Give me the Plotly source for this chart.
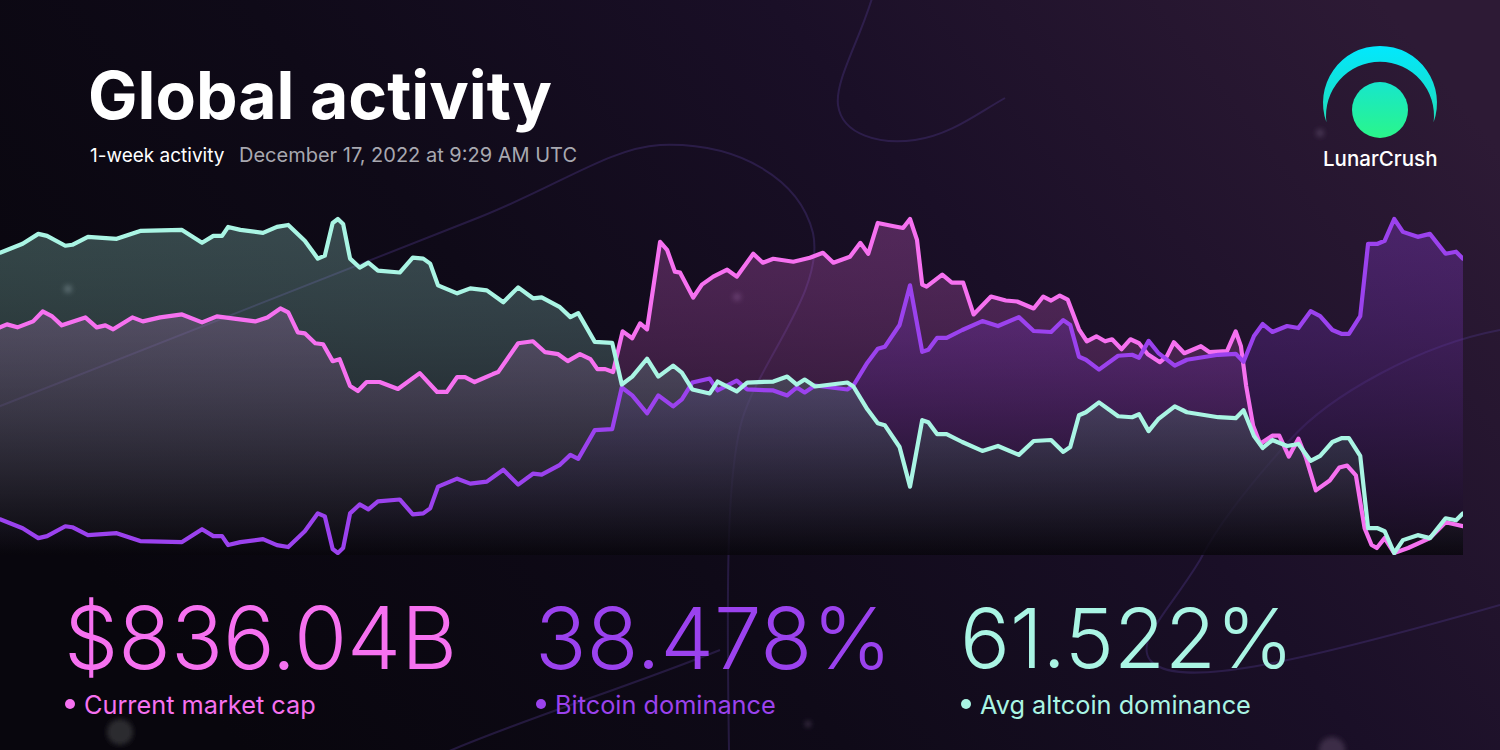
import base64
import plotly.graph_objects as go

# hours since start of the 1-week window
cap_hours = [0.0, 0.8, 2.0, 3.8, 4.9, 6.0, 7.1, 8.3, 9.8, 11.1, 12.1, 13.0, 15.2, 16.4, 18.4, 20.9,
             23.2, 24.9, 29.3, 30.7, 32.2, 33.1, 34.2, 35.0, 36.2, 37.1, 38.2, 39.0, 40.2, 41.1,
             42.1, 43.6, 45.7, 48.2, 50.2, 51.3, 52.5, 53.4, 54.5, 56.6, 57.2, 59.5, 61.2, 62.6,
             64.1, 65.2, 66.6, 67.8, 68.6, 69.5, 70.4, 71.5, 72.6, 73.5, 74.3, 75.8, 76.6, 77.5,
             78.1, 79.6, 80.6, 81.9, 83.5, 84.6, 86.5, 87.6, 88.8, 91.1, 93.0, 94.5, 95.7, 97.6,
             98.8, 99.7, 100.8, 102.5, 103.7, 104.5, 105.3, 105.9, 106.4, 108.2, 109.3, 110.6,
             111.8, 113.8, 115.5, 116.8, 118.7, 119.8, 120.7, 121.7, 122.6, 123.9, 124.8, 125.9,
             126.9, 127.7, 128.8, 129.8, 130.8, 131.8, 133.2, 134.0, 134.8, 136.0, 137.9, 138.9,
             140.9, 141.9, 142.5, 143.1, 143.9, 144.7, 146.1, 146.9, 148.0, 149.1, 150.0, 151.1,
             152.7, 153.8, 154.7, 155.7, 156.7, 157.5, 158.1, 159.0, 160.1, 161.7, 162.8, 164.2,
             166.0, 168.0]
# total crypto market cap, $B
cap_values = [876.0, 876.6, 876.0, 877.2, 879.2, 878.2, 876.4, 877.2, 878.0, 876.0, 876.4, 875.6,
              878.0, 877.2, 878.0, 878.6, 877.0, 878.2, 877.2, 878.0, 879.8, 879.0, 875.0, 874.8,
              872.8, 872.6, 869.2, 869.6, 864.2, 863.2, 865.0, 865.0, 863.6, 866.8, 863.0, 863.0,
              866.0, 866.0, 865.0, 866.6, 867.0, 872.8, 873.2, 871.0, 870.6, 869.2, 870.6, 869.6,
              867.6, 867.6, 867.0, 875.2, 873.8, 876.8, 875.6, 893.2, 891.6, 887.2, 887.0, 882.0,
              884.6, 886.2, 887.6, 886.2, 890.8, 889.0, 889.8, 889.2, 890.0, 891.0, 889.0, 890.2,
              893.0, 890.8, 897.0, 896.4, 896.0, 897.8, 893.6, 884.6, 884.2, 886.6, 885.0, 885.0,
              878.6, 882.2, 881.4, 881.2, 879.8, 882.2, 881.4, 882.4, 881.6, 875.6, 873.2, 874.2,
              873.2, 873.6, 871.6, 873.6, 872.8, 870.6, 869.0, 870.2, 873.0, 870.8, 872.2, 871.0,
              871.2, 875.2, 872.2, 864.2, 856.2, 852.6, 854.2, 854.2, 850.0, 853.6, 849.6, 843.2,
              845.2, 847.8, 848.2, 846.2, 835.6, 832.2, 831.6, 833.6, 830.6, 831.6, 832.4, 833.6,
              836.8, 836.0]

dom_hours = [0.0, 2.6, 4.4, 5.4, 7.5, 8.3, 10.1, 13.4, 16.1, 20.9, 23.2, 24.5, 25.5, 26.2, 27.6,
             30.2, 31.8, 33.1, 35.0, 36.5, 37.3, 38.2, 38.8, 39.4, 40.2, 41.3, 42.3, 43.4, 45.9,
             47.4, 48.6, 49.4, 50.3, 52.5, 54.0, 55.9, 57.8, 59.5, 61.2, 62.2, 64.3, 65.5, 66.4,
             68.3, 70.3, 71.4, 72.6, 74.3, 75.6, 77.3, 78.3, 79.5, 81.5, 82.4, 84.6, 85.8, 88.8,
             90.4, 91.5, 92.4, 93.6, 97.3, 98.0, 99.6, 100.8, 101.6, 103.3, 104.5, 105.9, 106.6,
             107.6, 108.7, 110.5, 112.8, 114.6, 117.0, 118.7, 120.7, 122.1, 122.9, 123.9, 124.7,
             126.2, 128.4, 130.0, 130.8, 131.9, 133.0, 134.9, 136.3, 139.9, 141.9, 142.8, 144.0,
             145.0, 146.1, 147.8, 149.1, 150.5, 151.6, 153.0, 154.1, 154.9, 156.2, 157.1, 158.2,
             159.0, 160.1, 161.1, 162.8, 164.2, 166.0, 167.2, 168.0]
# bitcoin dominance, %
btc_dominance = [37.426, 37.390, 37.350, 37.358, 37.398, 37.394, 37.362, 37.370, 37.338, 37.334,
                 37.386, 37.358, 37.358, 37.322, 37.334, 37.346, 37.322, 37.314, 37.378, 37.450,
                 37.438, 37.306, 37.290, 37.310, 37.450, 37.486, 37.466, 37.498, 37.506, 37.446,
                 37.450, 37.470, 37.558, 37.590, 37.570, 37.578, 37.626, 37.566, 37.610, 37.606,
                 37.646, 37.686, 37.670, 37.786, 37.790, 37.958, 37.926, 37.854, 37.926, 37.882,
                 37.910, 37.978, 37.994, 37.946, 37.986, 37.950, 37.946, 37.926, 37.958, 37.938,
                 37.966, 37.950, 37.966, 38.058, 38.114, 38.122, 38.210, 38.370, 38.102, 38.110,
                 38.158, 38.158, 38.190, 38.226, 38.206, 38.242, 38.186, 38.182, 38.230, 38.210,
                 38.082, 38.070, 38.030, 38.086, 38.090, 38.078, 38.146, 38.098, 38.046, 38.070,
                 38.090, 38.094, 38.062, 38.166, 38.214, 38.182, 38.206, 38.198, 38.266, 38.246,
                 38.190, 38.174, 38.174, 38.246, 38.538, 38.538, 38.550, 38.638, 38.586, 38.566,
                 38.578, 38.498, 38.506, 38.478]
# average altcoin dominance, %
alt_dominance = [62.574, 62.610, 62.650, 62.642, 62.602, 62.606, 62.638, 62.630, 62.662, 62.666,
                 62.614, 62.642, 62.642, 62.678, 62.666, 62.654, 62.678, 62.686, 62.622, 62.550,
                 62.562, 62.694, 62.710, 62.690, 62.550, 62.514, 62.534, 62.502, 62.494, 62.554,
                 62.550, 62.530, 62.442, 62.410, 62.430, 62.422, 62.374, 62.434, 62.390, 62.394,
                 62.354, 62.314, 62.330, 62.214, 62.210, 62.042, 62.074, 62.146, 62.074, 62.118,
                 62.090, 62.022, 62.006, 62.054, 62.014, 62.050, 62.054, 62.074, 62.042, 62.062,
                 62.034, 62.050, 62.034, 61.942, 61.886, 61.878, 61.790, 61.630, 61.898, 61.890,
                 61.842, 61.842, 61.810, 61.774, 61.794, 61.758, 61.814, 61.818, 61.770, 61.790,
                 61.918, 61.930, 61.970, 61.914, 61.910, 61.922, 61.854, 61.902, 61.954, 61.930,
                 61.910, 61.906, 61.938, 61.834, 61.786, 61.818, 61.794, 61.802, 61.734, 61.754,
                 61.810, 61.826, 61.826, 61.754, 61.462, 61.462, 61.450, 61.362, 61.414, 61.434,
                 61.422, 61.502, 61.494, 61.522]

stat_values = ["$836.04B", "38.478%", "61.522%"]
stat_labels = ["Current market cap", "Bitcoin dominance", "Avg altcoin dominance"]

PINK = (246, 113, 240)
PURPLE = (155, 66, 238)
MINT = (170, 245, 228)

W, H = 1500, 750


def rgb(c, a=None):
    if a is None:
        return "rgb(%d,%d,%d)" % c
    return "rgba(%d,%d,%d,%s)" % (c + (a,))


def px(x):
    return x / W


def py(y):
    return 1 - y / H


# background, decorative curves and the logo mark
bg_svg = """<svg xmlns="http://www.w3.org/2000/svg" width="1500" height="750" viewBox="0 0 1500 750">
<defs>
<linearGradient id="bg" x1="0" y1="0.6" x2="1" y2="0.2">
<stop offset="0" stop-color="#08060d"/>
<stop offset="0.35" stop-color="#0f0a18"/>
<stop offset="0.65" stop-color="#1a0f27"/>
<stop offset="1" stop-color="#2d1a35"/>
</linearGradient>
<linearGradient id="arc" x1="0" y1="0" x2="0" y2="1">
<stop offset="0" stop-color="#02e8fe"/>
<stop offset="1" stop-color="#1fdcb8"/>
</linearGradient>
<linearGradient id="moon" x1="0" y1="0" x2="0" y2="1">
<stop offset="0" stop-color="#17e6cc"/>
<stop offset="1" stop-color="#2af68a"/>
</linearGradient>
<filter id="blur"><feGaussianBlur stdDeviation="2.5"/></filter>
</defs>
<rect width="1500" height="750" fill="url(#bg)"/>
<g fill="none" stroke="#4a3480" stroke-width="2" opacity="0.4">
<path d="M-10,410 C180,335 360,265 480,217 C560,185 610,148 660,145 C740,142 800,180 813,233 C825,290 760,360 742,420 C728,470 726,560 729,750"/>
<path d="M873,-5 C860,40 835,80 838,105 C842,135 880,145 915,140 C950,135 975,115 1005,98"/>
<path d="M1500,330 C1420,345 1330,395 1290,440 C1240,495 1215,530 1200,560 C1170,610 1135,640 1150,660 C1175,690 1290,665 1500,605"/>
<path d="M440,755 C520,720 620,690 720,650"/>
</g>
<g filter="url(#blur)">
<circle cx="68" cy="289" r="4" fill="#6a6a78" opacity="0.6"/>
<circle cx="737" cy="297" r="4" fill="#5a4a6a" opacity="0.6"/>
<circle cx="1320" cy="133" r="4" fill="#5a4a68" opacity="0.6"/>
<circle cx="808" cy="724" r="3" fill="#5a4a68" opacity="0.6"/>
<circle cx="120" cy="732" r="13" fill="#33333a" opacity="0.8"/>
<circle cx="1332" cy="750" r="13" fill="#463650" opacity="0.8"/>
</g>
<path d="M1326.4,122.3 A57,57 0 1 1 1433.6,122.3 A54,54 0 1 0 1326.4,122.3 Z" fill="url(#arc)"/>
<circle cx="1380" cy="110" r="28" fill="url(#moon)"/>
</svg>"""
bg_uri = "data:image/svg+xml;base64," + base64.b64encode(bg_svg.encode()).decode()

series = [
    (cap_hours, cap_values, PINK),
    (dom_hours, btc_dominance, PURPLE),
    (dom_hours, alt_dominance, MINT),
]

# plot area in pixels; each series spans its own min..max (top 219, bottom 553)
PLOT_TOP, PLOT_BOTTOM = 215, 555
DATA_TOP, DATA_BOTTOM = 219, 553

fig = go.Figure()
layout_axes = {}
ranges = []
for vals in (s[1] for s in series):
    lo, hi = min(vals), max(vals)
    per_px = (hi - lo) / (DATA_BOTTOM - DATA_TOP)
    ranges.append([lo - per_px * (PLOT_BOTTOM - DATA_BOTTOM), hi + per_px * (DATA_TOP - PLOT_TOP)])

fill_alpha = [0.26, 0.30, 0.27]
for i, (hours, vals, col) in enumerate(series):
    r = ranges[i]
    fig.add_trace(
        go.Scatter(
            x=hours,
            y=vals,
            mode="none",
            fill="tozeroy",
            fillgradient=dict(
                type="vertical",
                start=r[0],
                stop=r[1],
                colorscale=[[0, "rgba(8,6,12,0.45)"], [1, rgb(col, fill_alpha[i])]],
            ),
            yaxis="y" if i == 0 else "y%d" % (i + 1),
            hoverinfo="skip",
        )
    )
for i, (hours, vals, col) in enumerate(series):
    fig.add_trace(
        go.Scatter(
            x=hours,
            y=vals,
            mode="lines",
            line=dict(color=rgb(col), width=4.2),
            yaxis="y%d" % (i + 4),
            hoverinfo="skip",
        )
    )

domain = [py(PLOT_BOTTOM), py(PLOT_TOP)]
for n in range(1, 7):
    ax = dict(domain=domain, range=ranges[(n - 1) % 3], visible=False, fixedrange=True)
    if n > 1:
        ax["overlaying"] = "y"
    layout_axes["yaxis" if n == 1 else "yaxis%d" % n] = ax


def note(x, y, text, size, color, weight=400, anchor="left"):
    return dict(x=px(x), y=py(y), xref="paper", yref="paper", text=text, showarrow=False,
                xanchor=anchor, yanchor="middle",
                font=dict(family="Inter", size=size, weight=weight, color=color))


annotations = [
    note(86, 95, "Global activity", 66, "#ffffff", 700),
    note(88, 155, "1-week activity", 19, "#ffffff"),
    note(237, 155, "December 17, 2022 at 9:29 AM UTC", 20, "#a8a8b0"),
    note(1380, 159, "LunarCrush", 20.5, "#ffffff", 500, "center"),
]
shapes = []
stat_x = [62, 533, 958]
stat_size = [86, 85, 83]
for i, col in enumerate([PINK, PURPLE, MINT]):
    annotations.append(note(stat_x[i], 638, stat_values[i], stat_size[i], rgb(col), 300))
    annotations.append(note(stat_x[i] + 20, 704, stat_labels[i], 25.3, rgb(col)))
    cx = stat_x[i] + 8
    shapes.append(
        dict(type="circle", xref="paper", yref="paper", x0=px(cx - 5), x1=px(cx + 5),
             y0=py(709), y1=py(699), fillcolor=rgb(col), line=dict(width=0))
    )

fig.update_layout(
    width=W,
    height=H,
    margin=dict(l=0, r=0, t=0, b=0),
    paper_bgcolor="#0c0913",
    plot_bgcolor="rgba(0,0,0,0)",
    showlegend=False,
    xaxis=dict(domain=[0, px(1463)], range=[0, 168], visible=False, fixedrange=True),
    annotations=annotations,
    shapes=shapes,
    images=[dict(source=bg_uri, xref="paper", yref="paper", x=0, y=1, sizex=1, sizey=1,
                 sizing="stretch", xanchor="left", yanchor="top", layer="below")],
    **layout_axes,
)

# page without body margin, rounded line joins
post = (
    "document.body.style.margin='0';"
    "document.querySelectorAll('path.js-line').forEach(function(p){"
    "p.style.strokeLinejoin='round';p.style.strokeLinecap='round';});"
)
fig.write_html("out.html", config={"displayModeBar": False}, post_script=post)
